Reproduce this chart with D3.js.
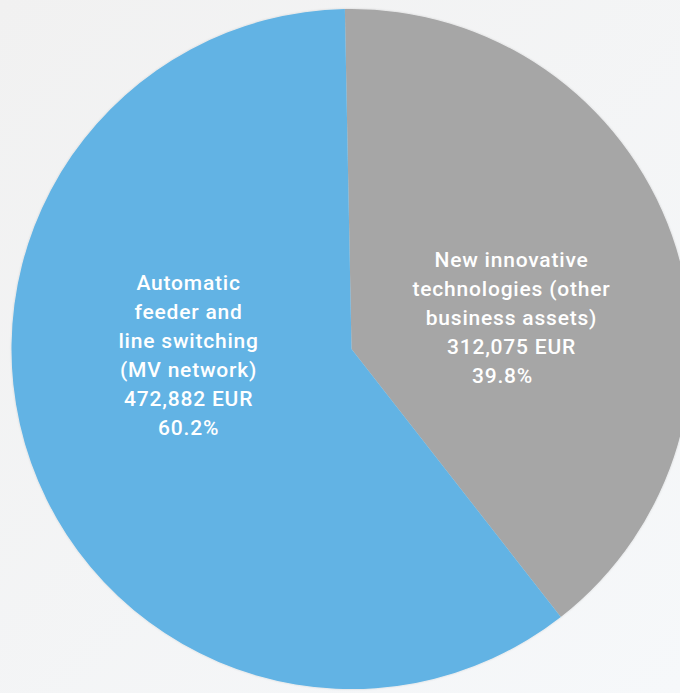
<!DOCTYPE html>
<html>
<head>
<meta charset="utf-8">
<script src="https://cdn.jsdelivr.net/npm/d3@7"></script>
<style>
  html, body { margin: 0; padding: 0; }
  body { width: 680px; height: 693px; overflow: hidden; }
  svg { display: block; }
</style>
</head>
<body>
<svg id="chart" width="680" height="693"></svg>
<script>
// slices in drawing order (clockwise from 12 o'clock)
var categories = ["New innovative technologies (other business assets)", "Automatic feeder and line switching (MV network)"];
var values = [312075, 472882];
var percents = ["39.8%", "60.2%"];
var labelLines = [
    ["New innovative", "technologies (other", "business assets)", "312,075 EUR", "39.8%"],
    ["Automatic", "feeder and", "line switching", "(MV network)", "472,882 EUR", "60.2%"]
];
var colors = ["#a6a6a6", "#62b3e4"];

function drawPie(id) {
    var svg = d3.select("#" + id);
    svg.selectAll("*").remove();

    var W = 680, H = 693;
    var cx = 351.5, cy = 349, R = 340;

    var defs = svg.append("defs");
    var grad = defs.append("linearGradient")
        .attr("id", "bg")
        .attr("x1", "0").attr("y1", "0")
        .attr("x2", "1").attr("y2", "1");
    grad.append("stop").attr("offset", "0").attr("stop-color", "#f1f1f1");
    grad.append("stop").attr("offset", "1").attr("stop-color", "#f6f8fa");

    var shadow = defs.append("filter").attr("id", "sh")
        .attr("x", "-5%").attr("y", "-5%").attr("width", "110%").attr("height", "110%");
    shadow.append("feDropShadow")
        .attr("dx", 0).attr("dy", 0).attr("stdDeviation", 1.2)
        .attr("flood-color", "#000").attr("flood-opacity", 0.15);

    svg.append("rect")
        .attr("width", W).attr("height", H)
        .attr("fill", "url(#bg)");

    var start = -0.0195;
    var pie = d3.pie().sort(null)
        .startAngle(start)
        .endAngle(start + 2 * Math.PI)
        .value(function(d) { return d; });

    var arcs = pie(values);
    var arc = d3.arc().innerRadius(0).outerRadius(R);

    var main = svg.append("g")
        .attr("class", "main")
        .attr("transform", "translate(" + [cx, cy] + ")");

    main.append("g").attr("filter", "url(#sh)")
        .selectAll("path")
        .data(arcs)
        .enter()
        .append("path")
        .attr("d", arc)
        .attr("fill", function(d, i) { return colors[i]; });

    // label anchors: angle (rad, clockwise from top) and distance from centre
    var labelAngle = [79 * Math.PI / 180, 268 * Math.PI / 180];
    var labelDist = 163;
    var lineH = 29;
    var pctShift = [-9, 0];

    arcs.forEach(function(d, i) {
        var a = labelAngle[i];
        var lx = Math.sin(a) * labelDist;
        var ly = -Math.cos(a) * labelDist;
        var lines = labelLines[i];
        var y0 = ly - (lines.length - 1) * lineH / 2;

        var t = main.append("text")
            .attr("text-anchor", "middle")
            .attr("fill", "#ffffff")
            .style("font-family", "Roboto, 'DejaVu Sans', sans-serif")
            .style("font-weight", "500")
            .style("font-size", "21px")
            .style("letter-spacing", "0.8px");

        lines.forEach(function(s, k) {
            t.append("tspan")
                .attr("x", lx + (k === lines.length - 1 ? pctShift[i] : 0))
                .attr("y", y0 + k * lineH)
                .attr("dy", "0.35em")
                .text(s);
        });
    });
}

drawPie("chart");
</script>
</body>
</html>
